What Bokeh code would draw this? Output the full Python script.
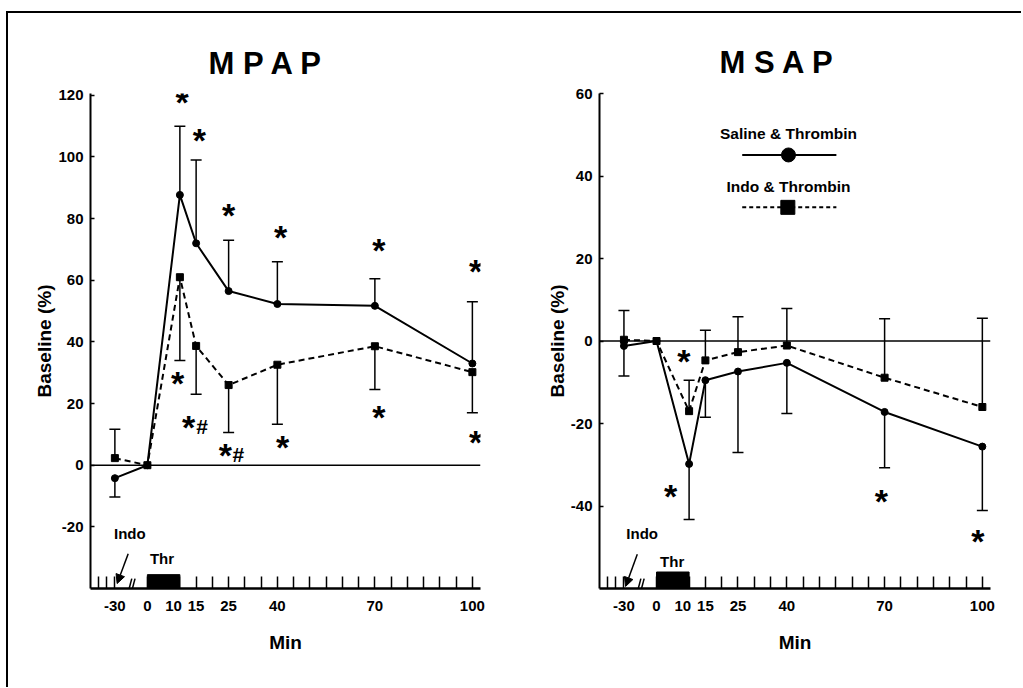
from bokeh.plotting import figure
from bokeh.models import (Range1d, FixedTicker, Whisker, ColumnDataSource, Span,
                          Arrow, NormalHead, TeeHead, Title)
from bokeh.layouts import row
from bokeh.core.properties import value
from bokeh.embed import file_html
from bokeh.resources import INLINE

# ---------------- data ----------------
time_min = [-30, 0, 10, 15, 25, 40, 70, 100]
tick_labels = ["-30", "0", "10", "15", "25", "40", "70", "100"]
mpap_y_ticks = [-20, 0, 20, 40, 60, 80, 100, 120]
msap_y_ticks = [-40, -20, 0, 20, 40, 60]

# MPAP (% of baseline)
mpap_saline = [-4.2, 0, 87.7, 72.0, 56.5, 52.3, 51.7, 33.0]
mpap_saline_sem = [6.1, 0, 22.3, 27.0, 16.5, 13.7, 8.8, 20.0]
mpap_saline_dir = [-1, 0, 1, 1, 1, 1, 1, 1]
mpap_indo = [2.3, 0, 61.0, 38.7, 26.0, 32.6, 38.6, 30.2]
mpap_indo_sem = [9.4, 0, 27.0, 15.7, 15.4, 19.3, 14.0, 13.2]
mpap_indo_dir = [1, 0, -1, -1, -1, -1, -1, -1]

# MSAP (% of baseline)
msap_saline = [-1.2, 0, -29.8, -9.5, -7.4, -5.3, -17.2, -25.6]
msap_saline_sem = [7.3, 0, 13.5, 9.0, 19.6, 12.3, 13.5, 15.5]
msap_saline_dir = [-1, 0, -1, -1, -1, -1, -1, -1]
msap_indo = [0.3, 0, -17.0, -4.7, -2.7, -1.1, -8.9, -16.0]
msap_indo_sem = [7.1, 0, 7.5, 7.3, 8.6, 9.0, 14.3, 21.5]
msap_indo_dir = [1, 0, 1, 1, 1, 1, 1, 1]

# significance marks (x in plotted minutes, y in %)
mpap_star_x = [10.7, 16.0, 25.0, 41.0, 71.2, 101.0, 9.3, 12.7, 24.0, 41.6, 71.2, 101.0]
mpap_star_y = [119.5, 107.0, 82.7, 75.7, 71.3, 64.5, 28.3, 14.0, 5.0, 7.6, 17.3, 9.0]
mpap_hash_x = [16.8, 28.0]
mpap_hash_y = [13.0, 3.9]
msap_star_x = [8.4, 4.3, 69.0, 98.6]
msap_star_y = [-3.6, -36.4, -37.6, -47.3]

FONT = "Liberation Sans"
NB = "\u00a0"


def pos(t):
    # broken time axis: the pre-treatment segment is compressed
    return t if t >= 0 else t / 3.0


x_pos = [pos(t) for t in time_min]
minor_pos = [-15, -12.5] + [v for v in range(5, 100, 5) if v not in x_pos]


def make_panel(title, title_off, y_lo, y_hi, y_ticks, saline, s_sem, s_dir, indo, i_sem, i_dir,
               star_x, star_y, width, mb_left, mb_right, mb_top, mb_bottom,
               indo_lbl, arrow, thr_lbl, bar_top):
    p = figure(width=width, height=674, output_backend="svg", toolbar_location=None,
               x_range=Range1d(-17.5, 102.5), y_range=Range1d(y_lo, y_hi),
               min_border_left=mb_left, min_border_right=mb_right,
               min_border_top=mb_top, min_border_bottom=mb_bottom)
    p.outline_line_color = None
    p.grid.visible = False
    p.background_fill_color = "white"
    p.border_fill_color = "white"

    t = Title(text=title, align="left", offset=title_off[0], text_font=FONT,
              text_font_size="31px", text_font_style="bold", text_color="black",
              standoff=title_off[1])
    p.add_layout(t, "above")

    # axes
    xa = p.xaxis[0]
    xa.ticker = FixedTicker(ticks=x_pos, minor_ticks=minor_pos)
    overrides = {}
    for x, l in zip(x_pos, tick_labels):
        overrides[x] = l + NB * 3 if l == "10" else l
    xa.major_label_overrides = overrides
    xa.major_tick_in = 12
    xa.major_tick_out = 0
    xa.minor_tick_in = 12
    xa.minor_tick_out = 0
    xa.axis_line_width = 2.5
    xa.major_tick_line_width = 1.5
    xa.minor_tick_line_width = 1.5
    xa.major_label_text_font = FONT
    xa.major_label_text_font_style = "bold"
    xa.major_label_text_font_size = "15px"
    xa.major_label_text_color = "black"
    xa.major_label_standoff = 8
    xa.axis_label = "Min"
    xa.axis_label_text_font = FONT
    xa.axis_label_text_font_style = "bold"
    xa.axis_label_text_font_size = "19px"
    xa.axis_label_text_color = "black"
    xa.axis_label_standoff = 15

    ya = p.yaxis[0]
    ya.ticker = FixedTicker(ticks=y_ticks, minor_ticks=[])
    ya.major_label_overrides = {v: str(v) for v in y_ticks}
    ya.major_tick_in = 4
    ya.major_tick_out = 0
    ya.axis_line_width = 2
    ya.major_tick_line_width = 1.5
    ya.major_label_text_font = FONT
    ya.major_label_text_font_style = "bold"
    ya.major_label_text_font_size = "15px"
    ya.major_label_text_color = "black"
    ya.major_label_standoff = 7
    ya.axis_label = "Baseline (%)"
    ya.axis_label_text_font = FONT
    ya.axis_label_text_font_style = "bold"
    ya.axis_label_text_font_size = "19px"
    ya.axis_label_text_color = "black"
    ya.axis_label_standoff = 0

    p.add_layout(Span(location=0, dimension="width", line_color="black", line_width=1.5))

    # error bars
    for vals, sem, dr in ((saline, s_sem, s_dir), (indo, i_sem, i_dir)):
        up = dict(base=[], lower=[], upper=[])
        dn = dict(base=[], lower=[], upper=[])
        for x, v, s, d in zip(x_pos, vals, sem, dr):
            if d > 0:
                up["base"].append(x); up["lower"].append(v); up["upper"].append(v + s)
            elif d < 0:
                dn["base"].append(x); dn["lower"].append(v - s); dn["upper"].append(v)
        p.add_layout(Whisker(base="base", lower="lower", upper="upper",
                             source=ColumnDataSource(up), lower_head=None,
                             upper_head=TeeHead(size=11, line_width=1.5),
                             line_width=1.5, line_color="black"))
        p.add_layout(Whisker(base="base", lower="lower", upper="upper",
                             source=ColumnDataSource(dn), upper_head=None,
                             lower_head=TeeHead(size=11, line_width=1.5),
                             line_width=1.5, line_color="black"))

    # series
    p.line(x_pos, indo, line_color="black", line_width=2, line_dash="6 4")
    p.scatter(x_pos, indo, marker="square", size=7, color="black")
    p.line(x_pos, saline, line_color="black", line_width=2)
    p.scatter(x_pos, saline, marker="circle", size=7, color="black")

    # significance asterisks
    p.text(star_x, star_y, text=["*"] * len(star_x), text_font=value(FONT),
           text_font_style="bold", text_font_size="34px", text_align="center",
           text_baseline="alphabetic", y_offset=5, text_color="black")

    # annotations: Indo arrow and thrombin bar
    p.text([indo_lbl[0]], [indo_lbl[1]], text=["Indo"], text_font=value(FONT),
           text_font_size="15px", text_font_style="bold", text_align="center",
           text_baseline="middle", text_color="black")
    p.add_layout(Arrow(end=NormalHead(size=9, fill_color="black", line_color="black"),
                       x_start=arrow[0], y_start=arrow[1], x_end=arrow[2], y_end=arrow[3],
                       line_width=1.5, line_color="black"))
    p.text([thr_lbl[0]], [thr_lbl[1]], text=["Thr"], text_font=value(FONT),
           text_font_size="15px", text_font_style="bold", text_align="center",
           text_baseline="middle", text_color="black")
    p.quad(left=[0], right=[10], bottom=[y_lo], top=[bar_top], color="black")
    # axis break mark
    p.segment(x0=[-5.6, -4.6], y0=[y_lo, y_lo], x1=[-4.8, -3.8],
              y1=[y_lo + (y_hi - y_lo) * 0.02] * 2, line_color="black", line_width=1.5)
    return p


p1 = make_panel("M P A P", (118, 26), -40, 120.6, mpap_y_ticks,
                mpap_saline, mpap_saline_sem, mpap_saline_dir,
                mpap_indo, mpap_indo_sem, mpap_indo_dir,
                mpap_star_x, mpap_star_y, width=507, mb_left=82, mb_right=35,
                mb_top=80, mb_bottom=96,
                indo_lbl=(-5.4, -22.1), arrow=(-5.9, -28.7, -9.3, -38.4),
                thr_lbl=(4.5, -30.3), bar_top=-35.5)
p1.text(mpap_hash_x, mpap_hash_y, text=["#"] * len(mpap_hash_x), text_font=value(FONT),
        text_font_style="bold", text_font_size="21px", text_align="center",
        text_baseline="alphabetic", y_offset=1, text_color="black")

p2 = make_panel("M S A P", (120, 28), -60, 60, msap_y_ticks,
                msap_saline, msap_saline_sem, msap_saline_dir,
                msap_indo, msap_indo_sem, msap_indo_dir,
                msap_star_x, msap_star_y, width=506, mb_left=84, mb_right=31,
                mb_top=79, mb_bottom=99,
                indo_lbl=(-4.4, -46.7), arrow=(-5.9, -51.7, -9.5, -59.5),
                thr_lbl=(4.8, -53.5), bar_top=-56)

# legend (right panel)
leg_x = [26.3, 55.2]
p2.text([40.5], [50.3], text=["Saline & Thrombin"], text_font=value(FONT),
        text_font_size="15.5px", text_font_style="bold", text_align="center",
        text_baseline="middle", text_color="black")
p2.line(leg_x, [45.1, 45.1], line_color="black", line_width=2)
p2.scatter([40.5], [45.1], marker="circle", size=14, color="black")
p2.text([40.5], [37.4], text=["Indo & Thrombin"], text_font=value(FONT),
        text_font_size="15.5px", text_font_style="bold", text_align="center",
        text_baseline="middle", text_color="black")
p2.line(leg_x, [32.4, 32.4], line_color="black", line_width=2, line_dash="4 3")
p2.scatter([40.3], [32.4], marker="square", size=14, color="black")

layout = row(p1, p2, styles={"border-top": "2px solid black",
                             "border-left": "2px solid black",
                             "margin-top": "11px", "margin-left": "6px"})

open("out.html", "w").write(file_html(layout, INLINE))
